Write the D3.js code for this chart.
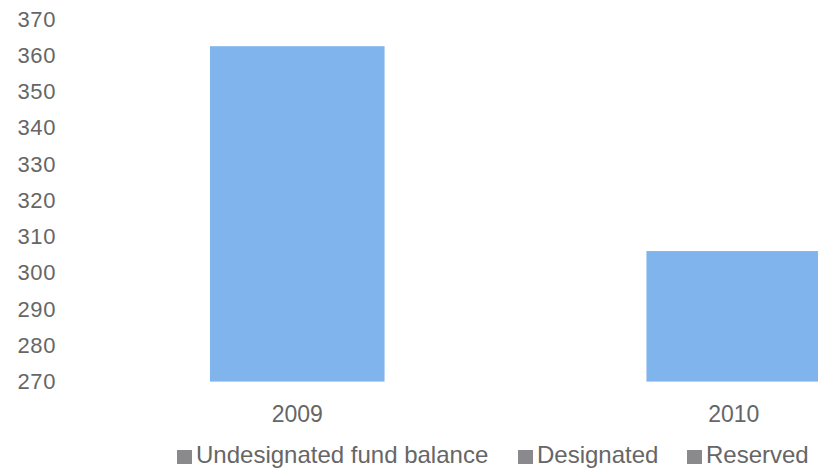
<!DOCTYPE html>
<html>
<head>
<meta charset="utf-8">
<script src="https://cdn.jsdelivr.net/npm/d3@7"></script>
<style>
  body { margin: 0; background: #fff; }
  text { font-family: "Liberation Sans", Arial, sans-serif; fill: #666; }
</style>
</head>
<body>
<svg id="chart"></svg>
<script>
const width = 818;
const height = 473;

const years = ['2009', '2010'];
const undesignated = [362.5, 306];
const yTicks = [270, 280, 290, 300, 310, 320, 330, 340, 350, 360, 370];
const legendItems = ['Undesignated fund balance', 'Designated', 'Reserved'];

const svg = d3.select('#chart')
    .attr('width', width)
    .attr('height', height);

const x = d3.scaleBand().domain(years).range([79, 952]).paddingInner(0.6).paddingOuter(0.3);
const y = d3.scaleLinear().domain([270, 370]).range([381.6, 19]);

// bars
svg.selectAll('rect.bar').data(years).enter().append('rect')
    .attr('class', 'bar')
    .attr('x', d => x(d))
    .attr('width', x.bandwidth())
    .attr('y', (d, i) => y(undesignated[i]))
    .attr('height', (d, i) => y(270) - y(undesignated[i]))
    .attr('fill', '#80b4ec');

// y axis (labels only)
const yAxis = svg.append('g')
    .attr('transform', 'translate(56, 0)')
    .call(d3.axisLeft(y).tickValues(yTicks).tickSize(0).tickPadding(0));
yAxis.select('.domain').remove();
yAxis.selectAll('text')
    .style('font-size', '22px')
    .style('letter-spacing', '0.6px')
    .attr('fill', '#666');

// x axis (labels only)
const xAxis = svg.append('g')
    .attr('transform', 'translate(0, 406)')
    .call(d3.axisBottom(x).tickSize(0).tickPadding(0));
xAxis.select('.domain').remove();
xAxis.selectAll('text')
    .attr('dy', '0.71em')
    .style('font-size', '23px')
    .attr('fill', '#666');

// legend
const legendX = [177, 518, 687];
const legend = svg.append('g');
legendItems.forEach((name, i) => {
    legend.append('rect')
        .attr('x', legendX[i])
        .attr('y', 450)
        .attr('width', 15)
        .attr('height', 14)
        .attr('fill', '#8a898e');
    legend.append('text')
        .attr('x', legendX[i] + 19)
        .attr('y', 463)
        .style('font-size', '24px')
        .text(name);
});
</script>
</body>
</html>
